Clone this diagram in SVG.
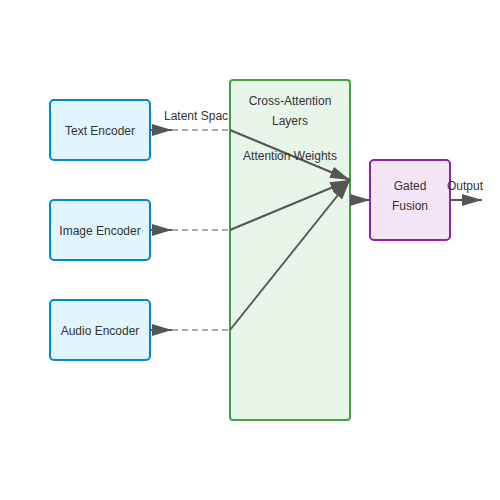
<svg xmlns="http://www.w3.org/2000/svg" width="500" height="500" viewBox="0 0 500 500">
<style>
text{font-family:"Liberation Sans",Arial,sans-serif;font-size:12px;fill:#333;text-anchor:middle}
.enc rect{fill:#e1f5fe;stroke:#0288d1;stroke-width:2}
.arrow{stroke:#555;stroke-width:2;fill:none}
.dash{stroke:#aaa;stroke-width:2;stroke-dasharray:6,4;fill:none}
</style>
<defs>
<marker id="ah" viewBox="0 0 10 10" refX="10" refY="5" markerWidth="20" markerHeight="12" markerUnits="userSpaceOnUse" orient="auto" preserveAspectRatio="none">
<path d="M0,0 L10,5 L0,10 z" fill="#555"/>
</marker>
</defs>
<rect width="500" height="500" fill="#fff"/>
<g id="text-encoder" class="enc"><rect x="50" y="100" width="100" height="60" rx="4"/><text x="100" y="135">Text Encoder</text></g>
<g id="image-encoder" class="enc"><rect x="50" y="200" width="100" height="60" rx="4"/><text x="100" y="235">Image Encoder</text></g>
<g id="audio-encoder" class="enc"><rect x="50" y="300" width="100" height="60" rx="4"/><text x="100" y="335">Audio Encoder</text></g>
<text x="164" y="120" style="text-anchor:start">Latent Spac</text>
<g id="cross-attention"><rect x="230" y="80" width="120" height="340" rx="3" fill="#e8f5e9" stroke="#43a047" stroke-width="2"/><text x="290" y="105">Cross-Attention</text><text x="290" y="125">Layers</text></g>
<g id="gated-fusion"><rect x="370" y="160" width="80" height="80" rx="4" fill="#f3e5f5" stroke="#8e24aa" stroke-width="2"/><text x="410" y="190">Gated</text><text x="410" y="210">Fusion</text></g>
<g id="connectors">
<line class="dash" x1="172" y1="130" x2="230" y2="130"/>
<line class="dash" x1="172" y1="230" x2="230" y2="230"/>
<line class="dash" x1="172" y1="330" x2="230" y2="330"/>
<line class="arrow" x1="150" y1="130" x2="172" y2="130" marker-end="url(#ah)"/>
<line class="arrow" x1="150" y1="230" x2="172" y2="230" marker-end="url(#ah)"/>
<line class="arrow" x1="150" y1="330" x2="172" y2="330" marker-end="url(#ah)"/>
<line class="arrow" x1="230" y1="130" x2="350" y2="180" marker-end="url(#ah)"/>
<line class="arrow" x1="230" y1="230" x2="350" y2="180" marker-end="url(#ah)"/>
<line class="arrow" x1="230" y1="330" x2="350" y2="180" marker-end="url(#ah)"/>
<line class="arrow" x1="350" y1="200" x2="370" y2="200" marker-end="url(#ah)"/>
<line class="arrow" x1="450" y1="200" x2="482" y2="200" marker-end="url(#ah)"/>
</g>
<text x="290" y="160">Attention Weights</text>
<text x="465" y="190">Output</text>
</svg>
